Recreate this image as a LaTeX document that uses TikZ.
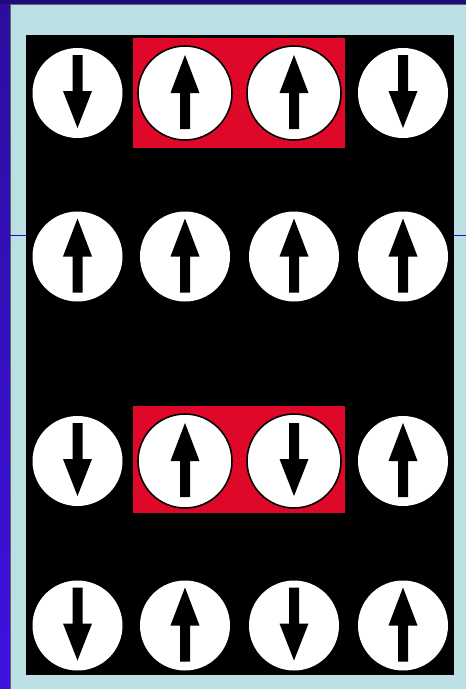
\documentclass[tikz,border=0pt]{standalone}
\definecolor{frameblue}{RGB}{44,14,158}
\definecolor{frameblueb}{RGB}{62,18,224}
\definecolor{topnavy}{RGB}{30,12,120}
\definecolor{panelcyan}{RGB}{187,224,227}
\definecolor{hired}{RGB}{224,8,40}
\definecolor{lineblue}{RGB}{30,20,170}
\tikzset{
  spinbg/.style={circle,fill=white,minimum size=90pt,inner sep=0pt},
  spinbgmark/.style={circle,fill=white,draw=black,line width=1.6pt,minimum size=94pt,inner sep=0pt},
  upshape/.pic={\fill[black] (-5,36) -- (-5,0) -- (-14.5,0) -- (0,-38) -- (14.5,0) -- (5,0) -- (5,36) -- cycle;},
  downshape/.pic={\fill[black] (-5,-38) -- (-5,-2) -- (-14.5,-2) -- (0,35) -- (14.5,-2) -- (5,-2) -- (5,-38) -- cycle;},
  hibox/.style={fill=hired}
}
\begin{document}
\begin{tikzpicture}[x=1pt,y=-1pt]
\useasboundingbox (0,0) rectangle (466,689);
% frame
\shade[top color=frameblue,bottom color=frameblueb] (0,0) rectangle (10,689);
\fill[topnavy] (0,0) rectangle (466,4);
\fill[panelcyan] (10,4) rectangle (466,689);
\draw[black!60,line width=0.6pt] (10,689) -- (10,4) -- (466,4);
\fill[black] (26,35) rectangle (454,675);
\draw[lineblue,line width=0.8pt] (10,235) -- (26,235);
\draw[lineblue,line width=0.8pt] (454,235) -- (466,235);
% highlighted pairs
\fill[hibox] (133,37.5) rectangle (345,148);
\fill[hibox] (133,406) rectangle (345,513);
% row 1
\node[spinbg] (r1c1) at (77.5,93) {}; \pic at (r1c1) {downshape};
\node[spinbgmark] (r1c2) at (185,93) {}; \pic at (r1c2) {upshape};
\node[spinbgmark] (r1c3) at (294,93) {}; \pic at (r1c3) {upshape};
\node[spinbg] (r1c4) at (403,93) {}; \pic at (r1c4) {downshape};
% row 2
\node[spinbg] (r2c1) at (77.5,256.5) {}; \pic at (r2c1) {upshape};
\node[spinbg] (r2c2) at (185,256.5) {}; \pic at (r2c2) {upshape};
\node[spinbg] (r2c3) at (294,256.5) {}; \pic at (r2c3) {upshape};
\node[spinbg] (r2c4) at (403,256.5) {}; \pic at (r2c4) {upshape};
% row 3
\node[spinbg] (r3c1) at (77.5,461) {}; \pic at (r3c1) {downshape};
\node[spinbgmark] (r3c2) at (185,461) {}; \pic at (r3c2) {upshape};
\node[spinbgmark] (r3c3) at (294,461) {}; \pic at (r3c3) {downshape};
\node[spinbg] (r3c4) at (403,461) {}; \pic at (r3c4) {upshape};
% row 4
\node[spinbg] (r4c1) at (77.5,625.5) {}; \pic at (r4c1) {downshape};
\node[spinbg] (r4c2) at (185,625.5) {}; \pic at (r4c2) {upshape};
\node[spinbg] (r4c3) at (294,625.5) {}; \pic at (r4c3) {downshape};
\node[spinbg] (r4c4) at (403,625.5) {}; \pic at (r4c4) {upshape};
\end{tikzpicture}
\end{document}
